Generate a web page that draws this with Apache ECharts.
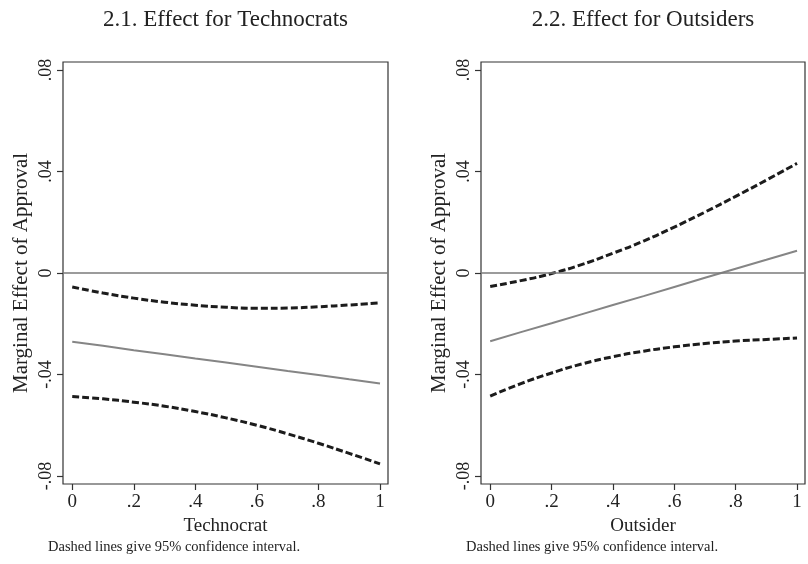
<!DOCTYPE html>
<html>
<head>
<meta charset="utf-8">
<script src="https://cdn.jsdelivr.net/npm/echarts@6/dist/echarts.min.js"></script>
<style>
html,body{margin:0;padding:0;background:#fff;}
#chart{width:808px;height:564px;}
</style>
</head>
<body>
<div id="chart"></div>
<script>
// ---- data ----
const xVals = [0, 0.1, 0.2, 0.3, 0.4, 0.5, 0.6, 0.7, 0.8, 0.9, 1];
const xTicks = [0, 0.2, 0.4, 0.6, 0.8, 1];
const yTicks = [-0.08, -0.04, 0, 0.04, 0.08];

const techEst   = [-0.0271, -0.0287, -0.0304, -0.0320, -0.0337, -0.0353, -0.0369, -0.0386, -0.0402, -0.0419, -0.0435];
const techUpper = [-0.0055, -0.0079, -0.0099, -0.0115, -0.0127, -0.0135, -0.0139, -0.0138, -0.0133, -0.0126, -0.0118];
const techLower = [-0.0487, -0.0496, -0.0509, -0.0525, -0.0546, -0.0571, -0.0600, -0.0634, -0.0671, -0.0711, -0.0752];

const outEst   = [-0.0269, -0.0233, -0.0198, -0.0162, -0.0126, -0.0091, -0.0055, -0.0019, 0.0017, 0.0052, 0.0088];
const outUpper = [-0.0053, -0.0030, -0.0002, 0.0034, 0.0078, 0.0126, 0.0181, 0.0240, 0.0302, 0.0366, 0.0432];
const outLower = [-0.0485, -0.0436, -0.0394, -0.0358, -0.0330, -0.0308, -0.0291, -0.0278, -0.0268, -0.0262, -0.0256];

const titles = ['2.1. Effect for Technocrats', '2.2. Effect for Outsiders'];
const xNames = ['Technocrat', 'Outsider'];
const yName = 'Marginal Effect of Approval';
const note = 'Dashed lines give 95% confidence interval.';

// ---- chart ----
const FONT = '"Liberation Serif", "Times New Roman", serif';
const TXT = '#222';
const pair = arr => xVals.map((x, i) => [x, arr[i]]);
const fmtX = v => (v === 0 ? '0' : v === 1 ? '1' : String(+v.toFixed(1)).replace('0.', '.'));
const fmtY = v => {
  if (Math.abs(v) < 1e-9) return '0';
  const s = (+v.toFixed(2)).toString();
  return s.replace('0.', '.');
};

const grids = [
  {left: 63, top: 62, width: 325, height: 422},
  {left: 481, top: 62, width: 324, height: 422}
];

function xAxisFor(i) {
  return {
    type: 'value', gridIndex: i, min: -0.03, max: 1.026,
    name: xNames[i], nameLocation: 'middle', nameGap: 30,
    nameTextStyle: {fontFamily: FONT, fontSize: 19, color: TXT},
    axisLine: {show: false, onZero: false},
    axisTick: {show: true, inside: false, length: 6, customValues: xTicks, lineStyle: {color: '#333', width: 1.2}},
    axisLabel: {customValues: xTicks, formatter: fmtX, fontFamily: FONT, fontSize: 19, color: TXT, margin: 9},
    splitLine: {show: false}
  };
}
function yAxisFor(i) {
  return {
    type: 'value', gridIndex: i, min: -0.08315, max: 0.08315,
    name: yName, nameLocation: 'middle', nameGap: 31, nameRotate: 90,
    nameTextStyle: {fontFamily: FONT, fontSize: 21, color: TXT},
    axisLine: {show: false, onZero: false},
    axisTick: {show: true, inside: false, length: 6, customValues: yTicks, lineStyle: {color: '#333', width: 1.2}},
    axisLabel: {customValues: yTicks, formatter: fmtY, rotate: 90, fontFamily: FONT, fontSize: 18, color: TXT, margin: 8},
    splitLine: {show: false}
  };
}

const series = [];
[[techEst, techUpper, techLower], [outEst, outUpper, outLower]].forEach((set, i) => {
  series.push({
    type: 'line', xAxisIndex: i, yAxisIndex: i, data: pair(set[0]), showSymbol: false, silent: true,
    lineStyle: {color: '#858585', width: 2}, z: 3,
    markLine: {
      silent: true, symbol: 'none', label: {show: false},
      lineStyle: {color: '#7a7a7a', width: 1.6, type: 'solid'},
      data: [{yAxis: 0}]
    }
  });
  [set[1], set[2]].forEach(arr => series.push({
    type: 'line', xAxisIndex: i, yAxisIndex: i, data: pair(arr), showSymbol: false, silent: true, smooth: true,
    lineStyle: {color: '#1c1c1c', width: 3, type: [7, 3], cap: 'butt'}, z: 4
  }));
});

const graphic = [];
titles.forEach((t, i) => {
  const g = grids[i];
  graphic.push({type: 'text', x: g.left + g.width / 2, y: 20,
    style: {text: t, font: '23px ' + FONT, fill: TXT, align: 'center', verticalAlign: 'middle'}});
  graphic.push({type: 'text', x: g.left - 15, y: 547,
    style: {text: note, font: '14.5px ' + FONT, fill: TXT, align: 'left', verticalAlign: 'middle'}});
});

const chart = echarts.init(document.getElementById('chart'), null, {renderer: 'canvas'});
chart.setOption({
  backgroundColor: '#fff',
  animation: false,
  grid: grids.map(g => Object.assign({show: true, borderColor: '#333', borderWidth: 1.2, backgroundColor: '#fff', containLabel: false}, g)),
  xAxis: [xAxisFor(0), xAxisFor(1)],
  yAxis: [yAxisFor(0), yAxisFor(1)],
  series: series,
  graphic: graphic
});
</script>
</body>
</html>
